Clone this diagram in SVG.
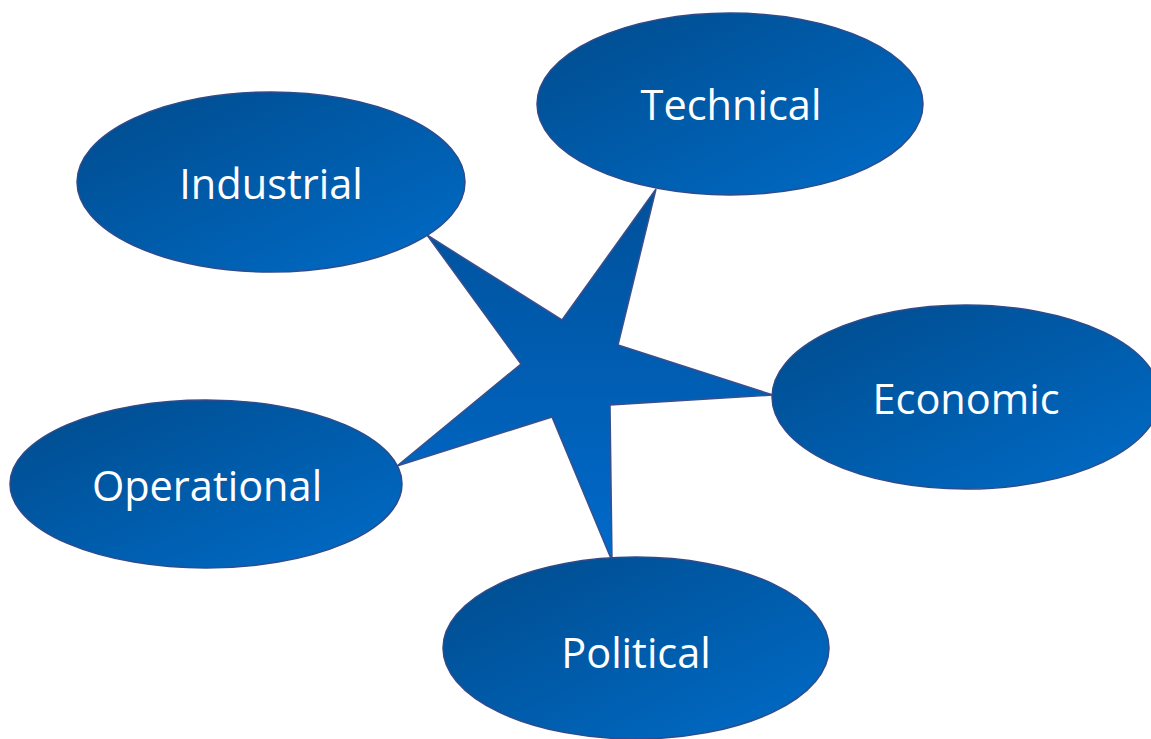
<svg xmlns="http://www.w3.org/2000/svg" width="1151" height="739" viewBox="0 0 1151 739">
<defs>
<linearGradient id="eg" x1="0" y1="0" x2="1" y2="1">
<stop offset="0" stop-color="#004b8c"/>
<stop offset="1" stop-color="#006cc8"/>
</linearGradient>
<linearGradient id="sg" x1="0" y1="0" x2="0" y2="1">
<stop offset="0" stop-color="#00519a"/>
<stop offset="1" stop-color="#006acb"/>
</linearGradient>
</defs>
<style>
.node ellipse{fill:url(#eg);stroke:#2f4b8b;stroke-width:1.5}
.node text{fill:#ffffff;font-family:"Open Sans","Noto Sans",sans-serif;font-size:41.5px;text-anchor:middle;dominant-baseline:central}
.star{fill:url(#sg);stroke:#3a4f8c;stroke-width:1.5;stroke-linejoin:miter}
</style>
<rect width="1151" height="739" fill="#ffffff"/>
<g id="connectors">
<polygon class="star" points="427,235 562,320 656,189 618,345 773,395 610,405 612,561 552,417 397,466 521,364"/>
</g>
<g id="industrial" class="node"><ellipse cx="271" cy="182" rx="194" ry="90"/><text x="271" y="183">Industrial</text></g>
<g id="technical" class="node"><ellipse cx="730" cy="104" rx="193" ry="91"/><text x="731" y="104">Technical</text></g>
<g id="economic" class="node"><ellipse cx="966" cy="397" rx="194" ry="92"/><text x="966" y="398">Economic</text></g>
<g id="operational" class="node"><ellipse cx="206" cy="484" rx="196" ry="84"/><text x="207" y="485">Operational</text></g>
<g id="political" class="node"><ellipse cx="636" cy="648" rx="193" ry="91"/><text x="636" y="652">Political</text></g>
</svg>
